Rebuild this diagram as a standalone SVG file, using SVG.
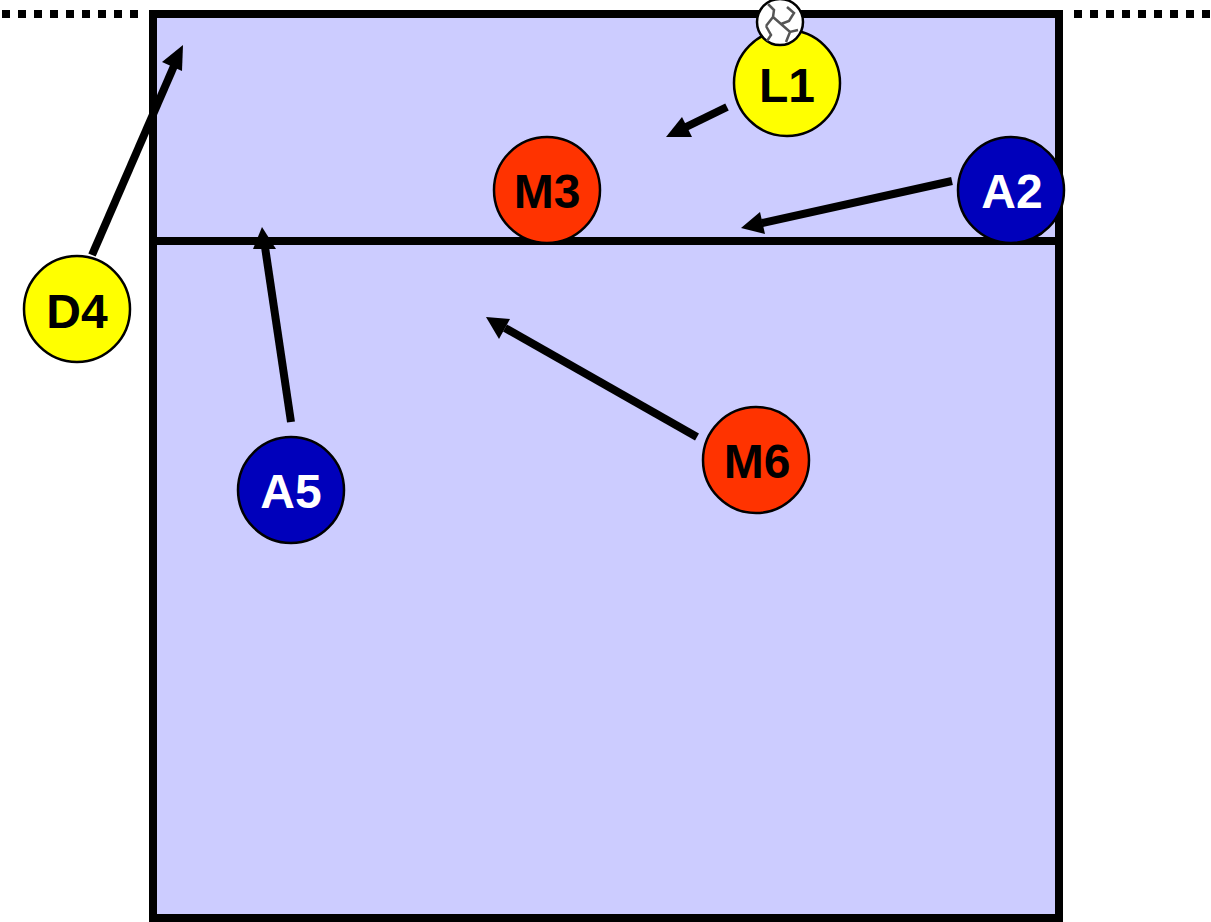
<svg xmlns="http://www.w3.org/2000/svg" width="1211" height="922" viewBox="0 0 1211 922">
<style>
.court{fill:#ccf;stroke:#000;stroke-width:8}
.line{fill:none;stroke:#000;stroke-width:8}
.dots{fill:none;stroke:#000;stroke-width:8;stroke-dasharray:8 8}
.conn{stroke:#000;stroke-width:8;fill:none}
.head{fill:#000;stroke:none}
.p{stroke:#000;stroke-width:2.5}
.y{fill:#ff0}.r{fill:#f30}.b{fill:#00b}
text{font-family:"Liberation Sans",Arial,sans-serif;font-weight:700;font-size:48px;text-anchor:middle}
.w{fill:#fff}.k{fill:#000}
.seam{fill:none;stroke:#555;stroke-width:2.5}
</style>
<rect width="1211" height="922" fill="#fff"/>
<g id="court">
<rect class="court" x="153" y="14" width="906" height="904"/>
<path class="line" d="M153 241H1059"/>
<path class="dots" d="M2 14H146"/>
<path class="dots" d="M1074 14H1211"/>
</g>
<g id="connectors">
<path class="conn" d="M92 255L174 66"/><path class="head" d="M183 45L162 62L182 71Z"/>
<path class="conn" d="M291 422L265 247"/><path class="head" d="M262 227L253 249L276 249Z"/>
<path class="conn" d="M697 437L505 328"/><path class="head" d="M486 317L499 339L510 319Z"/>
<path class="conn" d="M952 181L762 223"/><path class="head" d="M741 228L765 234L760 212Z"/>
<path class="conn" d="M727 107L686 127"/><path class="head" d="M666 137L692 137L682 117Z"/>
</g>
<g id="L1"><circle class="p y" cx="787" cy="83" r="53"/><text class="k" x="787" y="102">L1</text></g>
<g id="M3"><circle class="p r" cx="547" cy="190" r="53"/><text class="k" x="547" y="208">M3</text></g>
<g id="A2"><circle class="p b" cx="1011" cy="190" r="53"/><text class="w" x="1012" y="208">A2</text></g>
<g id="D4"><circle class="p y" cx="77" cy="309" r="53"/><text class="k" x="77" y="328">D4</text></g>
<g id="M6"><circle class="p r" cx="756" cy="460" r="53"/><text class="k" x="757" y="478">M6</text></g>
<g id="A5"><circle class="p b" cx="291" cy="490" r="53"/><text class="w" x="291" y="508">A5</text></g>
<g id="ball">
<circle cx="780" cy="22" r="23" fill="#fff" stroke="#000" stroke-width="2.5"/>
<path class="seam" d="M768 4L774 10L773 17L766 26M773 17L781 24L789 21L794 13L787 7M781 24L790 32L798 30M766 26L771 35L767 41M790 32L786 42"/>
</g>
</svg>
